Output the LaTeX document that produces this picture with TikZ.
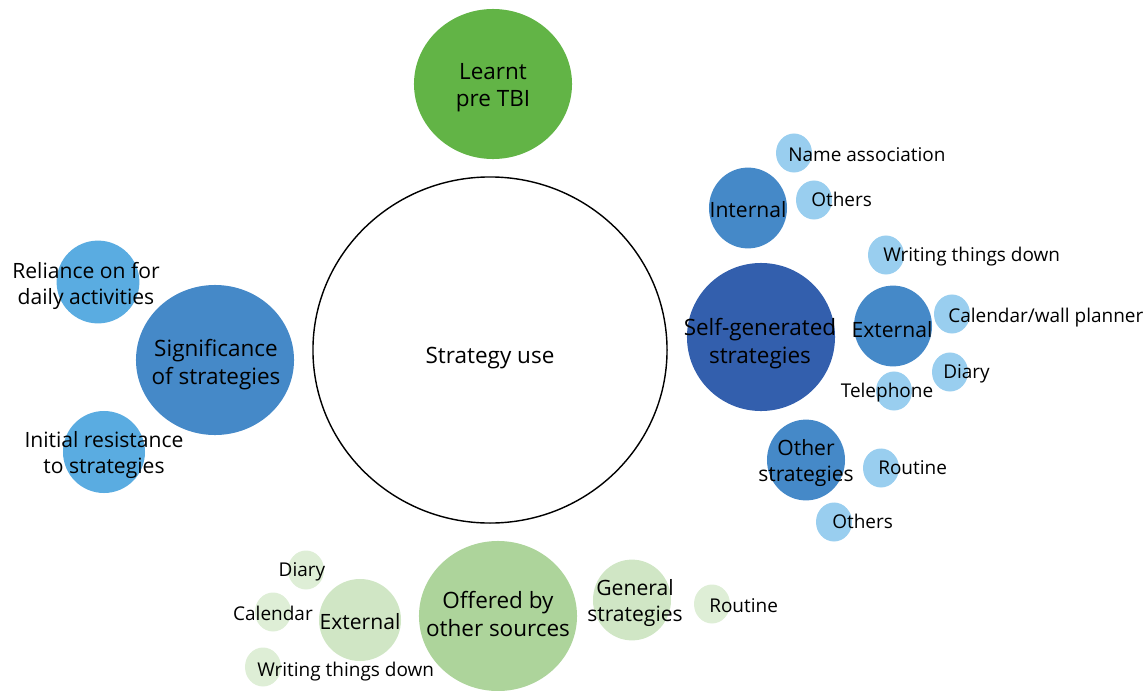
\documentclass[tikz,border=0pt]{standalone}
\usepackage{fontspec}
\setmainfont{Open Sans}
\usetikzlibrary{positioning, shapes.geometric}
\definecolor{pregreen}{HTML}{62B446}
\definecolor{offergreen}{HTML}{ADD49B}
\definecolor{midgreen}{HTML}{D0E6C5}
\definecolor{leafgreen}{HTML}{DEEED6}
\definecolor{deepblue}{HTML}{335FAD}
\definecolor{midblue}{HTML}{4589C8}
\definecolor{skyblue}{HTML}{5AACE1}
\definecolor{leafblue}{HTML}{99CEEF}
\tikzstyle{core} = [ellipse, draw=black, line width=1pt, inner sep=0pt, minimum width=8.85cm, minimum height=8.65cm]
\tikzstyle{theme} = [ellipse, inner sep=0pt, minimum width=3.95cm, minimum height=3.75cm]
\tikzstyle{subtheme} = [ellipse, inner sep=0pt, minimum width=1.95cm, minimum height=2.02cm]
\tikzstyle{leaf} = [ellipse, inner sep=0pt, minimum width=0.9cm, minimum height=0.975cm]
\tikzstyle{bigtext} = [align=center, inner sep=0pt, text depth=0pt, font=\fontsize{16}{19.5}\selectfont]
\tikzstyle{midtext} = [align=center, inner sep=0pt, text depth=0pt, font=\fontsize{15}{18.5}\selectfont]
\tikzstyle{smalltext} = [inner sep=0pt, text height=9.6pt, text depth=0pt, font=\fontsize{13.5}{16}\selectfont]

\begin{document}
\begin{tikzpicture}[x=0.025cm, y=-0.025cm]
\useasboundingbox (0,0) rectangle (1147,691);

%Circles
\node (strat) [core] at (490,350) {};
\node (learnt) [theme, fill=pregreen] at (493,84) {};
\node (signif) [theme, fill=midblue] at (215,360) {};
\node (reliance) [subtheme, fill=skyblue, minimum width=2.07cm, minimum height=2.07cm] at (98,282) {};
\node (resist) [subtheme, fill=skyblue, minimum width=2.05cm, minimum height=2.05cm] at (104,452) {};
\node (selfgen) [theme, fill=deepblue, minimum width=3.7cm, minimum height=3.7cm] at (761,337) {};
\node (internal) [subtheme, fill=midblue] at (748,208) {};
\node (extright) [subtheme, fill=midblue] at (893,326) {};
\node (otherstrat) [subtheme, fill=midblue] at (806,460) {};
\node (offered) [theme, fill=offergreen] at (498,616) {};
\node (general) [subtheme, fill=midgreen] at (632,600) {};
\node (extleft) [subtheme, fill=midgreen, minimum width=2.05cm, minimum height=2.05cm] at (360,620) {};

\node (nameassoc) [leaf, fill=leafblue] at (794,153) {};
\node (othersin) [leaf, fill=leafblue] at (814,200) {};
\node (writingr) [leaf, fill=leafblue] at (886,255) {};
\node (calwall) [leaf, fill=leafblue] at (952,314) {};
\node (diaryr) [leaf, fill=leafblue] at (950,372) {};
\node (phone) [leaf, fill=leafblue] at (894,391) {};
\node (routiner) [leaf, fill=leafblue] at (881,468) {};
\node (othersout) [leaf, fill=leafblue] at (834,522) {};
\node (diaryl) [leaf, fill=leafgreen] at (306,570) {};
\node (calendar) [leaf, fill=leafgreen] at (273,612) {};
\node (writingl) [leaf, fill=leafgreen] at (263,667) {};
\node (routineb) [leaf, fill=leafgreen] at (712,604) {};

%Labels
\node (stratlbl) [bigtext] at (490,355) {Strategy use};
\node (learntlbl) [bigtext] at (493,85) {Learnt\\pre TBI};
\node (signiflbl) [bigtext] at (216,362) {Significance\\of strategies};
\node (selfgenlbl) [bigtext] at (760,341) {Self-generated\\strategies};
\node (offeredlbl) [bigtext] at (498,614) {Offered by\\other sources};
\node (reliancelbl) [midtext] at (86,283) {Reliance on for\\daily activities};
\node (resistlbl) [midtext] at (104,452) {Initial resistance\\to strategies};
\node (internallbl) [midtext] at (748,209) {Internal};
\node (extrightlbl) [midtext] at (892,329) {External};
\node (otherstratlbl) [midtext] at (806,460) {Other\\strategies};
\node (generallbl) [midtext] at (635,600) {General\\strategies};
\node (extleftlbl) [midtext] at (360,621) {External};

\node (nameassoclbl) [smalltext, right=-0.15cm of nameassoc.center, yshift=-0.05cm] {Name association};
\node (othersinlbl) [smalltext, right=-0.075cm of othersin.center] {Others};
\node (writingrlbl) [smalltext, right=-0.075cm of writingr.center] {Writing things down};
\node (calwalllbl) [smalltext, right=-0.1cm of calwall.center, yshift=-0.05cm] {Calendar/wall planner};
\node (diaryrlbl) [smalltext, right=-0.175cm of diaryr.center] {Diary};
\node (phonelbl) [smalltext, xshift=-0.175cm] at (phone) {Telephone};
\node (routinerlbl) [smalltext, right=-0.075cm of routiner.center] {Routine};
\node (othersoutlbl) [smalltext, right=-0.05cm of othersout.center] {Others};
\node (diaryllbl) [smalltext, xshift=-0.1cm] at (diaryl) {Diary};
\node (calendarlbl) [smalltext, yshift=-0.05cm] at (calendar) {Calendar};
\node (writingllbl) [smalltext, right=-0.15cm of writingl.center, yshift=-0.075cm] {Writing things down};
\node (routineblbl) [smalltext, right=-0.075cm of routineb.center, yshift=-0.05cm] {Routine};

\end{tikzpicture}
\end{document}
